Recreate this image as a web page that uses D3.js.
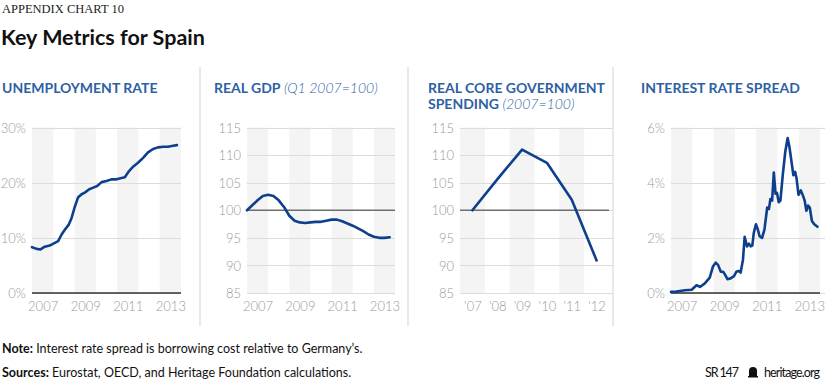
<!DOCTYPE html>
<html>
<head>
<meta charset="utf-8">
<script src="https://cdn.jsdelivr.net/npm/d3@7"></script>
<style>
  body { margin: 0; background: #fff; }
  text { font-family: Lato, "Open Sans", sans-serif; }
</style>
</head>
<body>
<div id="chart"></div>
<script>
var svgWidth = 825;
var svgHeight = 382;

// unemployment rate, monthly-ish (year fraction, %)
var unempYears = [2007.0, 2007.22, 2007.4, 2007.6, 2007.83, 2008.07, 2008.23, 2008.39, 2008.55, 2008.73, 2008.86, 2009.0,
  2009.16, 2009.33, 2009.48, 2009.69, 2009.88, 2010.06, 2010.27, 2010.5, 2010.73, 2010.97, 2011.16, 2011.36,
  2011.56, 2011.75, 2011.98, 2012.22, 2012.45, 2012.69, 2012.92, 2013.16, 2013.39, 2013.63, 2013.81];
var unempValues = [8.3, 8.0, 7.9, 8.4, 8.6, 9.1, 9.4, 10.6, 11.5, 12.4, 13.6, 15.5,
  17.3, 17.9, 18.2, 18.8, 19.1, 19.4, 20.1, 20.3, 20.6, 20.6, 20.8, 21.0,
  22.1, 22.9, 23.6, 24.5, 25.5, 26.1, 26.4, 26.5, 26.5, 26.7, 26.8];

// real GDP, quarterly from Q1 2007 (Q1 2007 = 100)
var gdpValues = [100, 100.9, 101.8, 102.6, 102.8, 102.6, 101.8, 100.6, 99.0, 98.1, 97.8, 97.7,
  97.8, 97.9, 97.9, 98.1, 98.3, 98.3, 98.0, 97.6, 97.2, 96.7, 96.2, 95.6, 95.2, 95.0, 95.0, 95.1];

// real core government spending, annual (2007 = 100)
var spendYears = ["'07", "'08", "'09", "'10", "'11", "'12"];
var spendValues = [100, 105.6, 111.0, 108.6, 101.9, 90.9];

// interest rate spread vs Germany (year fraction, %)
var spreadYears = [2007.0, 2007.25, 2007.5, 2007.65, 2007.97, 2008.2, 2008.36, 2008.59, 2008.82, 2008.97, 2009.1,
  2009.21, 2009.34, 2009.45, 2009.52, 2009.65, 2009.8, 2009.96, 2010.07, 2010.18, 2010.27, 2010.38, 2010.46,
  2010.57, 2010.66, 2010.74, 2010.82, 2010.89, 2010.99, 2011.08, 2011.16, 2011.28, 2011.39, 2011.52,
  2011.6, 2011.67, 2011.75, 2011.83, 2011.91, 2011.98, 2012.06, 2012.14, 2012.25, 2012.37, 2012.48,
  2012.56, 2012.64, 2012.75, 2012.83, 2012.9, 2012.99, 2013.1, 2013.2, 2013.28, 2013.36, 2013.44,
  2013.52, 2013.62, 2013.73, 2013.88];
var spreadValues = [0.04, 0.05, 0.08, 0.1, 0.12, 0.28, 0.22, 0.35, 0.56, 0.96, 1.1,
  1.02, 0.77, 0.77, 0.69, 0.5, 0.53, 0.61, 0.77, 0.8, 0.74, 1.2, 2.04,
  1.69, 1.79, 1.69, 1.72, 2.18, 2.49, 2.3, 2.06, 2.0, 2.3, 3.1,
  3.04, 3.41, 3.35, 4.37, 3.6, 3.63, 3.29, 3.35, 4.27, 5.13, 5.62,
  5.31, 4.88, 4.27, 4.39, 4.15, 3.56, 3.72, 3.53, 3.35, 2.98, 3.17,
  3.1, 2.61, 2.49, 2.4];

var yearBands = [2007, 2008, 2009, 2010, 2011, 2012, 2013];
var yearLabels = [2007, 2009, 2011, 2013];

var blue = "#0e3f8c";
var titleBlue = "#2f5fa5";
var bandGrey = "#f4f4f4";
var gridGrey = "#dcdcdc";
var tickGrey = "#9a9a9a";

var plotTop = 127.5;
var plotBottom = 293;

var svg = d3.select("#chart")
  .append("svg")
  .attr("width", svgWidth)
  .attr("height", svgHeight);

// header
svg.append("text")
  .attr("x", 2)
  .attr("y", 13)
  .style("font-family", "'Liberation Serif', 'DejaVu Serif', serif")
  .attr("font-size", 12.5)
  .attr("fill", "#222")
  .text("APPENDIX CHART 10");

svg.append("text")
  .attr("x", 1)
  .attr("y", 45)
  .attr("font-size", 21.5)
  .attr("font-weight", "bold")
  .attr("fill", "#111")
  .text("Key Metrics for Spain");

// panel separators
[200, 408, 613].forEach(function (x) {
  svg.append("line")
    .attr("x1", x).attr("x2", x)
    .attr("y1", 67).attr("y2", 326)
    .attr("stroke", "#e2e2e2")
    .attr("stroke-width", 1.5);
});

// panel titles
function panelTitle(x, y, main, sub) {
  var t = svg.append("text")
    .attr("x", x)
    .attr("y", y)
    .attr("font-size", 14)
    .attr("fill", titleBlue);
  t.append("tspan").attr("font-weight", "bold").text(main);
  if (sub) {
    t.append("tspan").attr("font-style", "italic").attr("font-weight", 300).text(" " + sub);
  }
}
panelTitle(2, 93, "UNEMPLOYMENT RATE");
panelTitle(214, 93, "REAL GDP", "(Q1 2007=100)");
panelTitle(428, 93, "REAL CORE GOVERNMENT");
panelTitle(428, 109, "SPENDING", "(2007=100)");
panelTitle(641, 93, "INTEREST RATE SPREAD");

// generic panel: bands, grid, y labels
function drawFrame(x0, x1, xScale, yScale, yTicks, yFormat, bands, gridRight) {
  var g = svg.append("g");
  g.selectAll(".band")
    .data(bands.filter(function (d, i) { return i % 2 === 0; }))
    .enter()
    .append("rect")
    .attr("x", d => xScale(d[0]))
    .attr("width", d => xScale(d[1]) - xScale(d[0]))
    .attr("y", plotTop)
    .attr("height", plotBottom - plotTop)
    .attr("fill", bandGrey);

  g.selectAll(".grid")
    .data(yTicks)
    .enter()
    .append("line")
    .attr("x1", x0)
    .attr("x2", gridRight || x1)
    .attr("y1", d => Math.round(yScale(d)) + 0.5)
    .attr("y2", d => Math.round(yScale(d)) + 0.5)
    .attr("stroke", gridGrey)
    .attr("stroke-width", 1);

  var leftAxis = d3.axisLeft(yScale)
    .tickValues(yTicks)
    .tickSize(0)
    .tickPadding(6)
    .tickFormat(yFormat);
  var ax = g.append("g")
    .attr("transform", `translate(${x0}, 0)`)
    .call(leftAxis);
  ax.select(".domain").remove();
  ax.selectAll("text")
    .attr("font-family", "Lato, sans-serif")
    .attr("font-size", 13)
    .attr("font-weight", 300)
    .attr("fill", tickGrey)
    .attr("dy", "0.36em");
  return g;
}

function drawXLabels(g, xScale, values, fmt) {
  var bottomAxis = d3.axisBottom(xScale)
    .tickValues(values)
    .tickSize(0)
    .tickPadding(6)
    .tickFormat(fmt);
  var ax = g.append("g")
    .attr("transform", `translate(0, ${plotBottom})`)
    .call(bottomAxis);
  ax.select(".domain").remove();
  ax.selectAll("text")
    .attr("font-family", "Lato, sans-serif")
    .attr("font-size", 13)
    .attr("font-weight", 300)
    .attr("fill", tickGrey)
    .attr("dy", "0.9em");
}

function drawLine(g, data, xScale, yScale) {
  var line = d3.line()
    .x(d => xScale(d[0]))
    .y(d => yScale(d[1]))
    .curve(d3.curveLinear);
  g.append("path")
    .datum(data)
    .attr("d", line)
    .attr("fill", "none")
    .attr("stroke", blue)
    .attr("stroke-width", 2.6)
    .attr("stroke-linejoin", "round")
    .attr("stroke-linecap", "round");
}

var yearBandPairs = yearBands.map(y => [y, y + 1]);

// ---- panel 1: unemployment
var x1Scale = d3.scaleLinear().domain([2007, 2014]).range([32, 181]);
var y1Scale = d3.scaleLinear().domain([0, 30]).range([plotBottom, plotTop]);
var g1 = drawFrame(32, 181, x1Scale, y1Scale, [0, 10, 20, 30], d => d + "%", yearBandPairs);
g1.append("line")
  .attr("x1", 32).attr("x2", 181)
  .attr("y1", plotBottom).attr("y2", plotBottom)
  .attr("stroke", "#333").attr("stroke-width", 1.5);
drawXLabels(g1, x1Scale, yearLabels.map(y => y + 0.5), d => Math.floor(d));
drawLine(g1, unempYears.map((y, i) => [y, unempValues[i]]), x1Scale, y1Scale);

// ---- panel 2: real GDP
var x2Scale = d3.scaleLinear().domain([2007, 2014]).range([247, 395]);
var y2Scale = d3.scaleLinear().domain([85, 115]).range([plotBottom, plotTop]);
var g2 = drawFrame(247, 395, x2Scale, y2Scale, [85, 90, 95, 100, 105, 110, 115], d => d, yearBandPairs);
g2.append("line")
  .attr("x1", 247).attr("x2", 395)
  .attr("y1", y2Scale(100)).attr("y2", y2Scale(100))
  .attr("stroke", "#6e6e6e").attr("stroke-width", 1.6);
drawXLabels(g2, x2Scale, yearLabels.map(y => y + 0.5), d => Math.floor(d));
drawLine(g2, gdpValues.map((v, i) => [2007 + i * 0.25, v]), x2Scale, y2Scale);

// ---- panel 3: government spending
var x3Scale = d3.scaleLinear().domain([-0.5, spendYears.length - 0.5]).range([460, 609]);
var y3Scale = d3.scaleLinear().domain([85, 115]).range([plotBottom, plotTop]);
var g3 = drawFrame(460, 609, x3Scale, y3Scale, [85, 90, 95, 100, 105, 110, 115], d => d,
  spendYears.map((d, i) => [i - 0.5, i + 0.5]), 613);
g3.append("line")
  .attr("x1", 460).attr("x2", 609)
  .attr("y1", y3Scale(100)).attr("y2", y3Scale(100))
  .attr("stroke", "#6e6e6e").attr("stroke-width", 1.6);
drawXLabels(g3, x3Scale, spendYears.map((d, i) => i), i => spendYears[i]);
drawLine(g3, spendValues.map((v, i) => [i, v]), x3Scale, y3Scale);

// ---- panel 4: interest rate spread
var x4Scale = d3.scaleLinear().domain([2007, 2014]).range([671, 820]);
var y4Scale = d3.scaleLinear().domain([0, 6]).range([plotBottom, plotTop]);
var g4 = drawFrame(671, 820, x4Scale, y4Scale, [0, 2, 4, 6], d => d + "%", yearBandPairs, 825);
g4.append("line")
  .attr("x1", 671).attr("x2", 820)
  .attr("y1", plotBottom).attr("y2", plotBottom)
  .attr("stroke", "#333").attr("stroke-width", 1.5);
drawXLabels(g4, x4Scale, yearLabels.map(y => y + 0.5), d => Math.floor(d));
drawLine(g4, spreadYears.map((y, i) => [y, spreadValues[i]]), x4Scale, y4Scale);

// footer
var note = svg.append("text").attr("x", 2).attr("y", 353).attr("font-size", 12.5).attr("fill", "#111");
note.append("tspan").attr("font-weight", "bold").text("Note:");
note.append("tspan").text(" Interest rate spread is borrowing cost relative to Germany\u2019s.");

var src = svg.append("text").attr("x", 2).attr("y", 377).attr("font-size", 12.5).attr("fill", "#111");
src.append("tspan").attr("font-weight", "bold").text("Sources:");
src.append("tspan").text(" Eurostat, OECD, and Heritage Foundation calculations.");

svg.append("text")
  .attr("x", 705).attr("y", 377)
  .attr("font-size", 12.5).attr("fill", "#111")
  .attr("textLength", 34)
  .text("SR 147");

// small bell icon
var bell = svg.append("g").attr("transform", "translate(748, 367)");
bell.append("path")
  .attr("d", "M1,10 L1,4 Q1,0 5,0 Q9,0 9,4 L9,10 Z")
  .attr("fill", "#111");
bell.append("rect").attr("x", 0).attr("y", 9).attr("width", 10).attr("height", 1.5).attr("fill", "#111");

svg.append("text")
  .attr("x", 764).attr("y", 377)
  .attr("font-size", 12.5).attr("fill", "#111")
  .attr("textLength", 56)
  .text("heritage.org");
</script>
</body>
</html>
